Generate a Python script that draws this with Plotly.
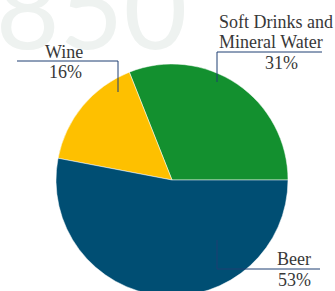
import plotly.graph_objects as go

categories = ["Soft Drinks and Mineral Water", "Wine", "Beer"]
values = [31, 16, 53]
colors = ["#13902f", "#fec000", "#004e73"]
label_lines = [["Soft Drinks and", "Mineral Water"], ["Wine"], ["Beer"]]
watermark = "1850"

W, H = 335, 300  # viewport is 291 tall; pie runs off the bottom edge

def px(x, y):
    return x / W, 1 - y / H

fig = go.Figure(go.Pie(
    labels=categories, values=values, sort=False, direction="counterclockwise",
    rotation=90 - 360 * values[0] / sum(values), textinfo="none", hoverinfo="label+percent",
    marker=dict(colors=colors, line=dict(color="white", width=0.5)),
    domain=dict(x=[56 / W, 288 / W], y=[1 - 296 / H, 1 - 64 / H]),
))

annotations = []
wx, wy = px(188, 6)
annotations.append(dict(x=wx, y=wy, xref="paper", yref="paper", text=watermark,
                        showarrow=False, xanchor="right", yanchor="middle", borderpad=0,
                        font=dict(family="Lato", size=110, color="#eef2f0")))

font = dict(family="Liberation Serif", size=18, color="#383838")
pct = [f"{v}%" for v in values]

def txt(s, x, y, anchor="center"):
    a, b = px(x, y)
    annotations.append(dict(x=a, y=b, xref="paper", yref="paper", text=s, borderpad=0,
                            showarrow=False, xanchor=anchor, yanchor="middle", font=font))

# Soft drinks
txt(label_lines[0][0], 218, 22, "left")
txt(label_lines[0][1], 218, 42, "left")
txt(pct[0], 281, 63)
# Wine
txt(label_lines[1][0], 64, 52)
txt(pct[1], 65, 72)
# Beer
txt(label_lines[2][0], 294, 259)
txt(pct[2], 294, 280)

line = dict(color="#1f3f73", width=1)
def seg(x0, y0, x1, y1):
    a0, b0 = px(x0, y0)
    a1, b1 = px(x1, y1)
    return dict(type="line", xref="paper", yref="paper", x0=a0, y0=b0, x1=a1, y1=b1, line=line)

shapes = [
    seg(17, 61, 118, 61), seg(118, 61, 118, 92),
    seg(217, 52, 322, 52), seg(217, 52, 217, 82),
    seg(217, 240, 217, 269), seg(217, 269, 320, 269),
]

fig.update_layout(width=W, height=H, margin=dict(l=0, r=0, t=0, b=0),
                  paper_bgcolor="white", plot_bgcolor="white", showlegend=False,
                  annotations=annotations, shapes=shapes)
fig.write_html("out.html", config={"displayModeBar": False},
               post_script="document.body.style.margin='0';document.body.style.overflow='hidden';")
